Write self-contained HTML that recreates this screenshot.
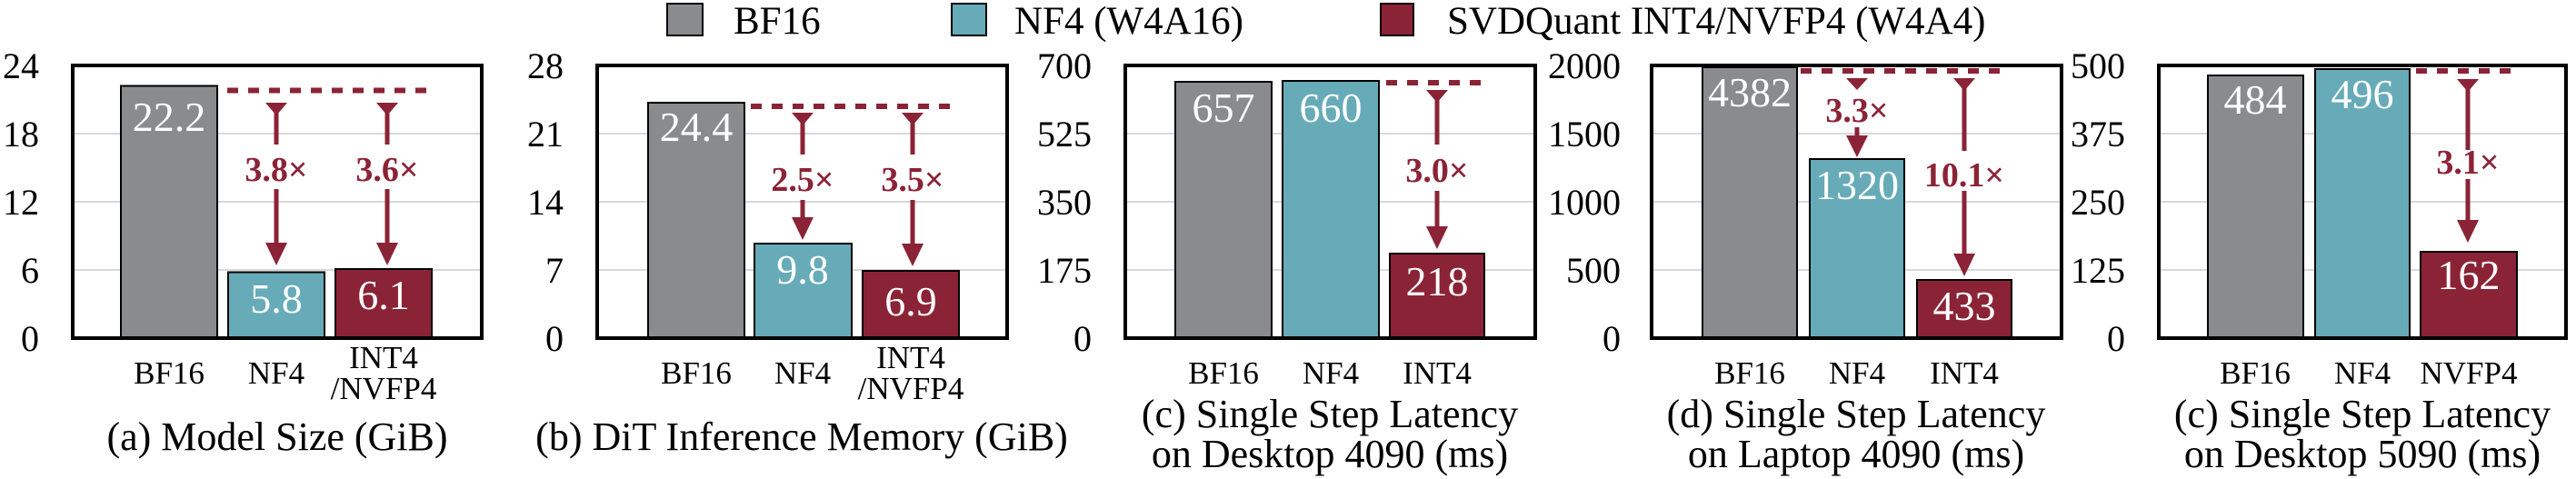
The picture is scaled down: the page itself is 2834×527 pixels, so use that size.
<!DOCTYPE html>
<html><head><meta charset="utf-8"><style>
html,body{margin:0;padding:0;background:#fff;}
svg{display:block;}
svg text{font-family:"Liberation Serif","DejaVu Serif",serif;}
.t{font-size:40px;text-anchor:end;}
.xl{font-size:35px;text-anchor:middle;}
.cap{font-size:44px;text-anchor:middle;}
.v{font-size:46px;fill:#fff;text-anchor:middle;}
.s{font-size:38px;font-weight:bold;fill:#8b2336;text-anchor:middle;}
.g{stroke:#d9d9d9;stroke-width:2;}
.fr{fill:none;stroke:#000;stroke-width:4;}
.b1{fill:#8a8b8d;stroke:#000;stroke-width:2;}
.b2{fill:#67abb9;stroke:#000;stroke-width:2;}
.b3{fill:#8b2336;stroke:#000;stroke-width:2;}
.d{stroke:#8b2336;stroke-width:6;stroke-dasharray:12 11;}
.sh{stroke:#8b2336;stroke-width:5;}
.ar{fill:#8b2336;}
.lg{font-size:43px;}
</style></head><body>
<svg width="2834" height="527" viewBox="0 0 2834 527" xmlns="http://www.w3.org/2000/svg" font-family="Liberation Serif, DejaVu Serif, serif">
<!-- legend -->
<rect x="734" y="4" width="39" height="35" class="b1"/><text x="807" y="37" class="lg">BF16</text>
<rect x="1047" y="4" width="38" height="35" class="b2"/><text x="1116" y="37" class="lg">NF4 (W4A16)</text>
<rect x="1519" y="4" width="36" height="35" class="b3"/><text x="1592" y="37" class="lg">SVDQuant INT4/NVFP4 (W4A4)</text>

<!-- Panel a -->
<g>
<line x1="80" y1="147" x2="530" y2="147" class="g"/><line x1="80" y1="222" x2="530" y2="222" class="g"/><line x1="80" y1="297" x2="530" y2="297" class="g"/>
<text x="43" y="86" class="t">24</text><text x="43" y="161" class="t">18</text><text x="43" y="236" class="t">12</text><text x="43" y="311" class="t">6</text><text x="43" y="386" class="t">0</text>
<rect x="133" y="94.5" width="106" height="277.5" class="b1"/>
<rect x="251" y="299.5" width="106" height="72.5" class="b2"/>
<rect x="369" y="296" width="106" height="76" class="b3"/>
<line x1="250" y1="99.5" x2="478" y2="99.5" class="d"/>
<polygon points="292,113 316,113 304,127" class="ar"/><line x1="304" y1="113" x2="304" y2="159" class="sh"/>
<text x="304" y="199" class="s">3.8×</text>
<line x1="304" y1="208" x2="304" y2="270" class="sh"/><polygon points="292,267 316,267 304,292" class="ar"/>
<polygon points="414,113 438,113 426,127" class="ar"/><line x1="426" y1="113" x2="426" y2="159" class="sh"/>
<text x="426" y="199" class="s">3.6×</text>
<line x1="426" y1="208" x2="426" y2="270" class="sh"/><polygon points="414,267 438,267 426,292" class="ar"/>
<text x="186" y="144" class="v">22.2</text><text x="304" y="344" class="v">5.8</text><text x="422" y="340" class="v">6.1</text>
<rect x="80" y="72" width="450" height="300" class="fr"/>
<text x="186" y="422" class="xl">BF16</text><text x="304" y="422" class="xl">NF4</text>
<text x="422" y="405" class="xl">INT4</text><text x="422" y="439" class="xl">/NVFP4</text>
<text x="305" y="495" class="cap">(a) Model Size (GiB)</text>
</g>

<!-- Panel b -->
<g>
<line x1="657" y1="147" x2="1108" y2="147" class="g"/><line x1="657" y1="222" x2="1108" y2="222" class="g"/><line x1="657" y1="297" x2="1108" y2="297" class="g"/>
<text x="620" y="86" class="t">28</text><text x="620" y="161" class="t">21</text><text x="620" y="236" class="t">14</text><text x="620" y="311" class="t">7</text><text x="620" y="386" class="t">0</text>
<rect x="713" y="113" width="106" height="259" class="b1"/>
<rect x="830" y="268" width="107" height="104" class="b2"/>
<rect x="949" y="298" width="106" height="74" class="b3"/>
<line x1="826" y1="117" x2="1054" y2="117" class="d"/>
<polygon points="871,124 895,124 883,138" class="ar"/><line x1="883" y1="124" x2="883" y2="170" class="sh"/>
<text x="883" y="210" class="s">2.5×</text>
<line x1="883" y1="220" x2="883" y2="242" class="sh"/><polygon points="871,239 895,239 883,264" class="ar"/>
<polygon points="992,124 1016,124 1004,138" class="ar"/><line x1="1004" y1="124" x2="1004" y2="170" class="sh"/>
<text x="1004" y="210" class="s">3.5×</text>
<line x1="1004" y1="220" x2="1004" y2="271" class="sh"/><polygon points="992,268 1016,268 1004,293" class="ar"/>
<text x="766" y="155" class="v">24.4</text><text x="883" y="312" class="v">9.8</text><text x="1002" y="347" class="v">6.9</text>
<rect x="657" y="72" width="451" height="300" class="fr"/>
<text x="766" y="422" class="xl">BF16</text><text x="883" y="422" class="xl">NF4</text>
<text x="1002" y="405" class="xl">INT4</text><text x="1002" y="439" class="xl">/NVFP4</text>
<text x="882" y="495" class="cap">(b) DiT Inference Memory (GiB)</text>
</g>

<!-- Panel c -->
<g>
<line x1="1238" y1="147" x2="1689" y2="147" class="g"/><line x1="1238" y1="222" x2="1689" y2="222" class="g"/><line x1="1238" y1="297" x2="1689" y2="297" class="g"/>
<text x="1201" y="86" class="t">700</text><text x="1201" y="161" class="t">525</text><text x="1201" y="236" class="t">350</text><text x="1201" y="311" class="t">175</text><text x="1201" y="386" class="t">0</text>
<rect x="1293" y="90" width="106" height="282" class="b1"/>
<rect x="1411" y="89" width="106" height="283" class="b2"/>
<rect x="1529" y="279" width="104" height="93" class="b3"/>
<line x1="1525" y1="91" x2="1632" y2="91" class="d"/>
<polygon points="1569,99 1593,99 1581,113" class="ar"/><line x1="1581" y1="99" x2="1581" y2="159" class="sh"/>
<text x="1581" y="200" class="s">3.0×</text>
<line x1="1581" y1="210" x2="1581" y2="252" class="sh"/><polygon points="1569,249 1593,249 1581,274" class="ar"/>
<text x="1346" y="134" class="v">657</text><text x="1464" y="134" class="v">660</text><text x="1581" y="325" class="v">218</text>
<rect x="1238" y="72" width="451" height="300" class="fr"/>
<text x="1346" y="422" class="xl">BF16</text><text x="1464" y="422" class="xl">NF4</text><text x="1581" y="422" class="xl">INT4</text>
<text x="1463" y="470" class="cap">(c) Single Step Latency</text>
<text x="1463" y="514" class="cap">on Desktop 4090 (ms)</text>
</g>

<!-- Panel d -->
<g>
<line x1="1817" y1="147" x2="2268" y2="147" class="g"/><line x1="1817" y1="222" x2="2268" y2="222" class="g"/><line x1="1817" y1="297" x2="2268" y2="297" class="g"/>
<text x="1783" y="86" class="t">2000</text><text x="1783" y="161" class="t">1500</text><text x="1783" y="236" class="t">1000</text><text x="1783" y="311" class="t">500</text><text x="1783" y="386" class="t">0</text>
<rect x="1873" y="74" width="104" height="298" class="b1"/>
<rect x="1991" y="175" width="104" height="197" class="b2"/>
<rect x="2109" y="308" width="104" height="64" class="b3"/>
<line x1="1981" y1="78" x2="2209" y2="78" class="d"/>
<polygon points="2031,86 2055,86 2043,99" class="ar"/>
<text x="2043" y="134" class="s">3.3×</text>
<line x1="2043" y1="140" x2="2043" y2="152" class="sh"/><polygon points="2031,149 2055,149 2043,173" class="ar"/>
<polygon points="2149,86 2173,86 2161,100" class="ar"/><line x1="2161" y1="86" x2="2161" y2="166" class="sh"/>
<text x="2161" y="205" class="s">10.1×</text>
<line x1="2161" y1="210" x2="2161" y2="282" class="sh"/><polygon points="2149,279 2173,279 2161,304" class="ar"/>
<text x="1925" y="117" class="v">4382</text><text x="2043" y="219" class="v">1320</text><text x="2161" y="352" class="v">433</text>
<rect x="1817" y="72" width="451" height="300" class="fr"/>
<text x="1925" y="422" class="xl">BF16</text><text x="2043" y="422" class="xl">NF4</text><text x="2161" y="422" class="xl">INT4</text>
<text x="2042" y="470" class="cap">(d) Single Step Latency</text>
<text x="2042" y="514" class="cap">on Laptop 4090 (ms)</text>
</g>

<!-- Panel e -->
<g>
<line x1="2375" y1="147" x2="2823" y2="147" class="g"/><line x1="2375" y1="222" x2="2823" y2="222" class="g"/><line x1="2375" y1="297" x2="2823" y2="297" class="g"/>
<text x="2338" y="86" class="t">500</text><text x="2338" y="161" class="t">375</text><text x="2338" y="236" class="t">250</text><text x="2338" y="311" class="t">125</text><text x="2338" y="386" class="t">0</text>
<rect x="2429" y="83" width="105" height="289" class="b1"/>
<rect x="2547" y="76" width="104" height="296" class="b2"/>
<rect x="2663" y="277" width="106" height="95" class="b3"/>
<line x1="2658" y1="78" x2="2764" y2="78" class="d"/>
<polygon points="2703,87 2727,87 2715,101" class="ar"/><line x1="2715" y1="87" x2="2715" y2="165" class="sh"/>
<text x="2715" y="191" class="s">3.1×</text>
<line x1="2715" y1="197" x2="2715" y2="245" class="sh"/><polygon points="2703,242 2727,242 2715,267" class="ar"/>
<text x="2481" y="125" class="v">484</text><text x="2599" y="119" class="v">496</text><text x="2716" y="318" class="v">162</text>
<rect x="2375" y="72" width="448" height="300" class="fr"/>
<text x="2481" y="422" class="xl">BF16</text><text x="2599" y="422" class="xl">NF4</text><text x="2716" y="422" class="xl">NVFP4</text>
<text x="2599" y="470" class="cap">(c) Single Step Latency</text>
<text x="2599" y="514" class="cap">on Desktop 5090 (ms)</text>
</g>
</svg>
</body></html>
